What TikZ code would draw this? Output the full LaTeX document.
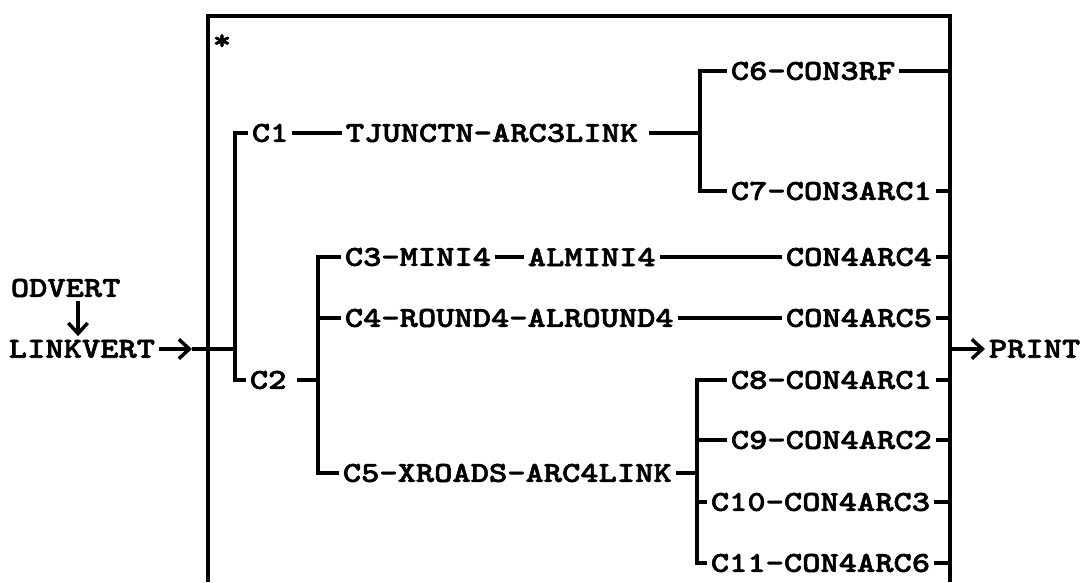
\documentclass[tikz,border=0pt]{standalone}
\usepackage{fontspec}
\newfontfamily\typefont{lmmonolt10-bold.otf}[FakeStretch=1.2,FakeBold=2]
\usetikzlibrary{arrows.meta}

\begin{document}
\begin{tikzpicture}[x=0.2mm,y=-0.2mm,>={Straight Barb[length=6pt,width=11pt]},
  lbl/.style={font=\typefont\fontsize{16.5}{18}\selectfont,inner sep=2pt,anchor=west},
  wire/.style={line width=2pt}]
  \useasboundingbox (0,0) rectangle (1080,582);

  % frame, right side collects all results
  \draw[wire] (208,582) |- (950,16) -- (950,582);
  \coordinate (bar) at (950,349);
  \node[lbl,anchor=center] (star) at (222,42) {*};

  \node[lbl] (odvert) at (7,288) {ODVERT};
  \node[lbl] (linkvert) at (5,349) {LINKVERT};
  \node[lbl] (print) at (985,349) {PRINT};

  \coordinate (jA) at (235,349);
  \coordinate (jB) at (700,133);
  \coordinate (jC) at (318,380);
  \coordinate (jD) at (697,473);
  \coordinate (lvtip) at (192,349);
  \coordinate (dn) at (78,0);

  \node[lbl] (c1) at (248,133) {C1};
  \node[lbl] (tj) at (342,133) {TJUNCTN-ARC3LINK};
  \node[lbl] (c6) at (727,71) {C6-CON3RF};
  \node[lbl] (c7) at (727,191) {C7-CON3ARC1};

  \node[lbl] (c2) at (246,380) {C2};
  \node[lbl] (c3) at (341,257) {C3-MINI4};
  \node[lbl] (almini) at (524,257) {ALMINI4};
  \node[lbl] (con44) at (782,257) {CON4ARC4};
  \node[lbl] (c4) at (341,318) {C4-ROUND4-ALROUND4};
  \node[lbl] (con45) at (782,318) {CON4ARC5};
  \node[lbl] (c5) at (339,473) {C5-XROADS-ARC4LINK};

  \node[lbl] (c8) at (727,380) {C8-CON4ARC1};
  \node[lbl] (c9) at (727,440) {C9-CON4ARC2};
  \node[lbl] (c10) at (707,502) {C10-CON4ARC3};
  \node[lbl] (c11) at (707,563) {C11-CON4ARC6};

  % inputs
  \draw[wire,->] (dn |- odvert.south) -- (dn |- linkvert.north);
  \draw[wire,->] (linkvert.east) -- (lvtip);
  \draw[wire] (lvtip) -- (jA);

  % branches
  \draw[wire] (c1.west) -| (jA) |- (c2.west);
  \draw[wire] (c1) -- (tj);
  \draw[wire,shorten <=4pt] (tj.east) -- (jB);
  \draw[wire] (c6.west) -| (jB) |- (c7.west);

  \draw[wire,shorten <=4pt] (c2.east) -- (jC);
  \draw[wire] (c3.west) -| (jC) |- (c5.west);
  \draw[wire] (jC |- c4.west) -- (c4.west);
  \draw[wire] (c3) -- (almini);
  \draw[wire] (almini) -- (con44);
  \draw[wire] (c4) -- (con45);

  \draw[wire] (c5.east) -- (jD);
  \draw[wire] (c8.west) -| (jD) |- (c11.west);
  \draw[wire] (jD |- c9.west) -- (c9.west);
  \draw[wire] (jD |- c10.west) -- (c10.west);

  % results
  \foreach \n in {c6,c7,con44,con45,c8,c9,c10,c11}
    \draw[wire] (\n.east) -- (\n.east -| bar);
  \draw[wire,->] (bar) -- (print.west);
\end{tikzpicture}
\end{document}
